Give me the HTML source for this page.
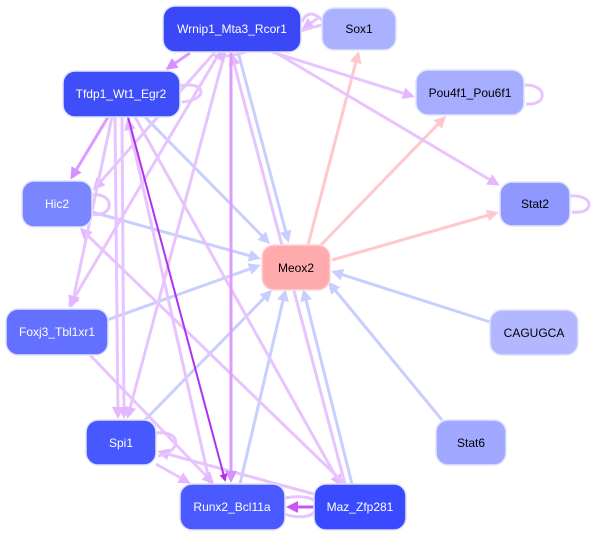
<!DOCTYPE html>
<html><head><style>
body{margin:0;background:#fff;width:600px;height:536px;overflow:hidden}
svg{display:block}
text{font-family:"Liberation Sans",sans-serif;font-size:12px;text-anchor:middle;dominant-baseline:central}
</style></head><body>
<svg width="600" height="536" viewBox="0 0 600 536">
<defs>
<marker id="p" markerWidth="4" markerHeight="4" refX="3" refY="2" orient="auto"><path d="M0,0L4,2L0,4z" fill="#e4b8ff"/></marker>
<marker id="pd" markerWidth="4" markerHeight="4" refX="3" refY="2" orient="auto"><path d="M0,0L4,2L0,4z" fill="#d890ff"/></marker>
<marker id="b" markerWidth="4" markerHeight="4" refX="3" refY="2" orient="auto"><path d="M0,0L4,2L0,4z" fill="#c8cfff"/></marker>
<marker id="r" markerWidth="4" markerHeight="4" refX="3" refY="2" orient="auto"><path d="M0,0L4,2L0,4z" fill="#ffc8cc"/></marker>
<marker id="d" markerWidth="4" markerHeight="4" refX="3" refY="2" orient="auto"><path d="M0,0L4,2L0,4z" fill="#b030f0"/></marker>
<marker id="m" markerWidth="4" markerHeight="4" refX="3" refY="2" orient="auto"><path d="M0,0L4,2L0,4z" fill="#cc55f5"/></marker>
</defs>
<g fill="none" stroke-width="3">
<g stroke="#c8cfff" marker-end="url(#b)">
<line x1="238" y1="52" x2="288" y2="240"/>
<line x1="145" y1="117" x2="268" y2="242"/>
<line x1="92" y1="212" x2="258" y2="258"/>
<line x1="107" y1="320" x2="258" y2="266"/>
<line x1="145" y1="420" x2="270" y2="292"/>
<line x1="240" y1="484" x2="285" y2="292"/>
<line x1="352" y1="484" x2="304" y2="292"/>
<line x1="442" y1="420" x2="330" y2="284"/>
<line x1="490" y1="322" x2="334" y2="272"/>
</g>
<g stroke="#ffc8cc" marker-end="url(#r)">
<line x1="308" y1="245" x2="358" y2="54"/>
<line x1="320" y1="246" x2="444" y2="118"/>
<line x1="332" y1="260" x2="496" y2="213"/>
</g>
<g stroke="#e8c4ff" marker-end="url(#p)">
<line x1="272" y1="52" x2="412" y2="96"/>
<line x1="278" y1="54" x2="497" y2="184"/>
<line x1="215" y1="52" x2="95" y2="188"/>
<line x1="220" y1="52" x2="70" y2="305"/>
<line x1="225" y1="52" x2="128" y2="416"/>
<line x1="345" y1="484" x2="232" y2="56"/>
<line x1="115" y1="117" x2="118" y2="416"/>
<line x1="122" y1="117" x2="124" y2="416"/>
<line x1="135" y1="117" x2="340" y2="484"/>
<line x1="210" y1="484" x2="128" y2="121"/>
<line x1="345" y1="484" x2="82" y2="230"/>
<line x1="90" y1="355" x2="212" y2="482"/>
<line x1="112" y1="117" x2="72" y2="305"/>
<line x1="314" y1="494" x2="160" y2="452"/>
<line x1="156" y1="464" x2="188" y2="482"/>
<line x1="318" y1="18" x2="304" y2="28"/>
<path d="M396,22 C300,10 260,60 216,56"/>
</g>
<g stroke="#dc9cff" marker-end="url(#pd)">
<line x1="190" y1="53" x2="168" y2="68"/>
<line x1="108" y1="117" x2="72" y2="177"/>
<line x1="231" y1="52" x2="231" y2="480"/>
</g>
<line x1="128" y1="117" x2="225" y2="480" stroke="#b030f0" stroke-width="2" marker-end="url(#d)"/>
<line x1="314" y1="507" x2="289" y2="507" stroke="#cc55f5" marker-end="url(#m)"/>
<path d="M285,498 C305,494 318,500 314,503 M314,512 C310,518 295,518 285,514" stroke="#e8c4ff"/>
<g stroke="#e8c4ff">
<path d="M180,86 C205,80 210,100 182,102"/>
<path d="M92,195 C115,192 115,218 92,214"/>
<path d="M156,433 C182,430 182,452 158,456"/>
<path d="M524,85 C548,84 548,106 526,104"/>
<path d="M570,196 C595,194 595,215 572,212"/>
<path d="M322,20 C312,10 305,14 302,22"/>
</g>
</g>
<g stroke="#e0e4ff" stroke-width="1.5">
<rect x="163" y="6" width="138" height="46" rx="12" fill="#3a48f8"/>
<rect x="322" y="8" width="74" height="42" rx="12" fill="#aab1ff"/>
<rect x="63" y="71" width="117" height="46" rx="12" fill="#3e4ef8"/>
<rect x="416" y="70" width="108" height="45" rx="12" fill="#a6adff"/>
<rect x="22" y="181" width="70" height="46" rx="12" fill="#7a86ff"/>
<rect x="500" y="182" width="70" height="44" rx="12" fill="#8f98ff"/>
<rect x="262" y="245" width="68" height="45" rx="12" fill="#ffaaad" stroke="#ffd8d8"/>
<rect x="6" y="309" width="102" height="46" rx="12" fill="#6470ff"/>
<rect x="490" y="310" width="88" height="45" rx="12" fill="#b2b7ff"/>
<rect x="86" y="420" width="70" height="45" rx="12" fill="#4858ff"/>
<rect x="436" y="420" width="70" height="45" rx="12" fill="#a0a8ff"/>
<rect x="180" y="484" width="105" height="46" rx="12" fill="#4a5aff"/>
<rect x="314" y="484" width="92" height="46" rx="12" fill="#3a4aff"/>
</g>
<g fill="#fff">
<text x="232" y="29">Wrnip1_Mta3_Rcor1</text>
<text x="121" y="94">Tfdp1_Wt1_Egr2</text>
<text x="57" y="204">Hic2</text>
<text x="57" y="332">Foxj3_Tbl1xr1</text>
<text x="121" y="443">Spi1</text>
<text x="232" y="507">Runx2_Bcl11a</text>
<text x="360" y="507">Maz_Zfp281</text>
</g>
<g fill="#000">
<text x="359" y="29">Sox1</text>
<text x="470" y="93">Pou4f1_Pou6f1</text>
<text x="535" y="204">Stat2</text>
<text x="296" y="268">Meox2</text>
<text x="534" y="333">CAGUGCA</text>
<text x="471" y="443">Stat6</text>
</g>
</svg>
</body></html>
